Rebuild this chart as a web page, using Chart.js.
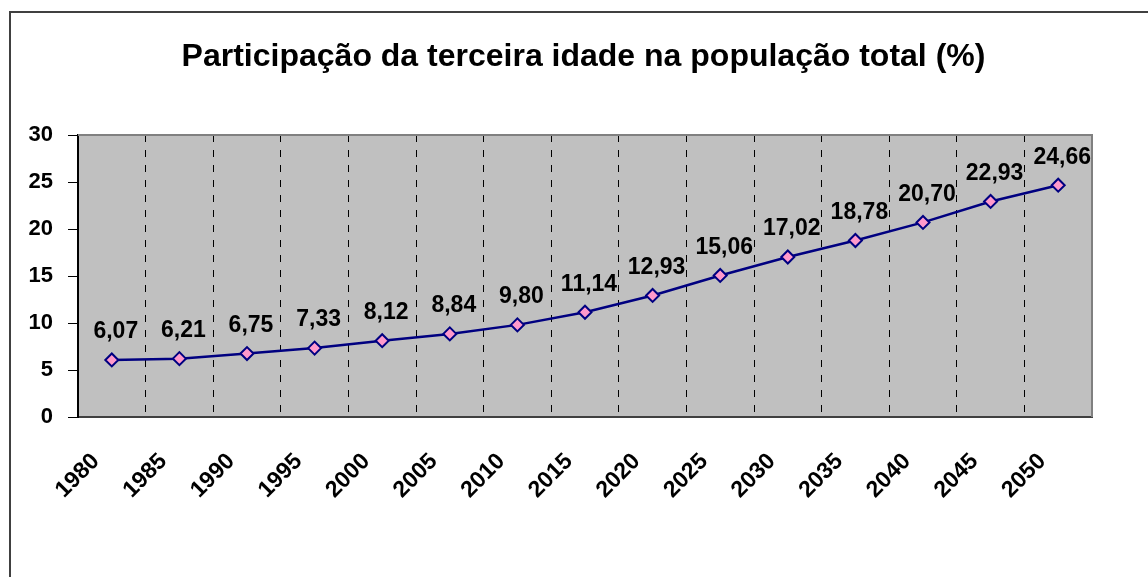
<!DOCTYPE html>
<html>
<head>
<meta charset="utf-8">
<script src="https://cdn.jsdelivr.net/npm/chart.js@4/dist/chart.umd.min.js"></script>
<style>
  html, body { margin: 0; padding: 0; background: #ffffff; }
  canvas { display: block; }
</style>
</head>
<body>
<canvas id="c" width="1148" height="577"></canvas>
<script>
const titleText = 'Participação da terceira idade na população total (%)';
const years = ['1980','1985','1990','1995','2000','2005','2010','2015','2020','2025','2030','2035','2040','2045','2050'];
const shares = [6.07, 6.21, 6.75, 7.33, 8.12, 8.84, 9.80, 11.14, 12.93, 15.06, 17.02, 18.78, 20.70, 22.93, 24.66];
const yTicks = [0, 5, 10, 15, 20, 25, 30];

const FONT = "'Liberation Sans', Arial, Helvetica, sans-serif";

const framePlugin = {
  id: 'frame',
  beforeDraw(chart) {
    const { ctx, chartArea: a } = chart;
    ctx.save();
    ctx.fillStyle = '#C0C0C0';
    ctx.fillRect(a.left, a.top, a.right - a.left, a.bottom - a.top);
    ctx.restore();
  },
  afterDraw(chart) {
    const { ctx, chartArea: a } = chart;
    ctx.save();
    ctx.strokeStyle = '#808080';
    ctx.lineWidth = 2;
    ctx.beginPath();
    ctx.moveTo(a.left, a.top);
    ctx.lineTo(a.right, a.top);
    ctx.lineTo(a.right, a.bottom);
    ctx.stroke();
    ctx.strokeStyle = '#404040';
    ctx.lineWidth = 2;
    ctx.beginPath();
    ctx.moveTo(10, 577);
    ctx.lineTo(10, 12);
    ctx.lineTo(1148, 12);
    ctx.stroke();
    ctx.restore();
  }
};

const labelPlugin = {
  id: 'valueLabels',
  afterDatasetsDraw(chart) {
    const { ctx } = chart;
    const meta = chart.getDatasetMeta(0);
    const data = chart.data.datasets[0].data;
    ctx.save();
    ctx.font = 'bold 23px ' + FONT;
    ctx.fillStyle = '#000';
    ctx.textAlign = 'center';
    ctx.textBaseline = 'middle';
    meta.data.forEach((pt, i) => {
      ctx.fillText(data[i].toFixed(2).replace('.', ','), pt.x + 4, pt.y - 28);
    });
    ctx.restore();
  }
};

new Chart(document.getElementById('c'), {
  type: 'line',
  data: {
    labels: years,
    datasets: [{
      data: shares,
      yAxisID: 'y',
      borderColor: '#000080',
      borderWidth: 2.5,
      tension: 0,
      pointStyle: 'rectRot',
      pointRadius: 6.5,
      pointBackgroundColor: '#FF99CC',
      pointBorderColor: '#000080',
      pointBorderWidth: 2
    }]
  },
  options: {
    responsive: false,
    animation: false,
    devicePixelRatio: 1,
    layout: { padding: { left: 20, right: 1, top: 0, bottom: 0 } },
    plugins: {
      legend: { display: false },
      tooltip: { enabled: false },
      title: {
        display: true,
        text: titleText,
        color: '#000',
        font: { family: FONT, size: 32, weight: 'bold', lineHeight: 1.2 },
        padding: { top: 38, bottom: 58.6 }
      }
    },
    scales: {
      x: {
        type: 'category',
        offset: true,
        grid: {
          offset: true,
          drawOnChartArea: true,
          drawTicks: false,
          color: '#000',
          lineWidth: 1
        },
        border: { display: true, color: '#404040', width: 2, dash: [7, 8] },
        ticks: {
          autoSkip: false,
          minRotation: 45,
          maxRotation: 45,
          padding: 31,
          labelOffset: -16,
          color: '#000',
          font: { family: FONT, size: 23, weight: 'bold' }
        },
        afterFit(scale) { scale.height = 160; }
      },
      y: {
        position: 'left',
        min: 0,
        max: 30,
        afterBuildTicks(scale) { scale.ticks = yTicks.map(v => ({ value: v })); },
        grid: {
          drawOnChartArea: false,
          drawTicks: true,
          tickLength: 10,
          color: '#000',
          lineWidth: 1
        },
        border: { display: true, color: '#000', width: 2 },
        ticks: {
          padding: 15,
          color: '#000',
          font: { family: FONT, size: 22, weight: 'bold' }
        },
        afterFit(scale) { scale.width = 58; }
      },
      spacer: {
        type: 'linear',
        position: 'right',
        display: true,
        grid: { display: false, drawTicks: false },
        border: { display: false },
        ticks: { display: false },
        afterFit(scale) { scale.width = 55; }
      }
    }
  },
  plugins: [framePlugin, labelPlugin]
});
</script>
</body>
</html>
